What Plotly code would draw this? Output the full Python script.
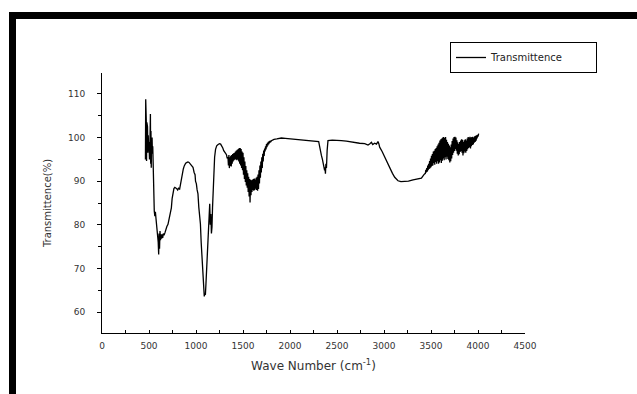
import plotly.graph_objects as go

# ---- data ----
wavenumber = [
    462, 465, 468, 471, 474, 477, 480, 484, 488, 492, 496, 500, 505, 510, 515, 518, 521, 524, 527, 530, 533, 536, 540,
    545, 550, 556, 562, 568, 574, 580, 586, 592, 598, 603, 607, 612, 617, 622, 628, 634, 640, 646, 652, 660, 670, 680,
    690, 702, 712, 720, 730, 738, 746, 755, 765, 775, 784, 795, 805, 815, 826, 835, 845, 855, 865, 875, 890, 905, 915,
    926, 940, 955, 968, 980, 990, 995, 1004, 1012, 1021, 1030, 1040, 1047, 1055, 1062, 1068, 1075, 1082, 1088, 1093,
    1100, 1106, 1110, 1116, 1122, 1128, 1134, 1140, 1146, 1152, 1158, 1164, 1170, 1176, 1182, 1190, 1198, 1208, 1220,
    1235, 1250, 1262, 1272, 1285, 1295, 1305, 1315, 1325, 1332,
    1340, 1345, 1350, 1355, 1360, 1365, 1370, 1375, 1380, 1385, 1390, 1395, 1400, 1405, 1410, 1415, 1420, 1425, 1430,
    1435, 1440, 1445, 1450, 1455, 1460, 1465, 1470, 1475, 1480, 1485, 1490, 1495, 1500, 1505, 1510, 1515, 1520, 1525,
    1530, 1535, 1540, 1545, 1550, 1555, 1560, 1565, 1570, 1575, 1580, 1585, 1590, 1595, 1600, 1605, 1610, 1615, 1620,
    1625, 1630, 1635, 1640, 1645, 1650, 1655, 1660, 1665, 1670, 1675, 1680, 1685, 1690, 1695, 1700, 1705, 1710, 1715,
    1720, 1725, 1730, 1735, 1740, 1745, 1750, 1755, 1760, 1765, 1770, 1775, 1780, 1785, 1790, 1795,
    1802, 1830, 1860, 1908, 1950, 2015, 2060, 2121, 2180, 2230, 2263, 2290, 2305, 2315, 2325, 2334, 2345, 2355, 2362,
    2368, 2372, 2377, 2382, 2388, 2395, 2404, 2450, 2500, 2547, 2600, 2650, 2688, 2740, 2795, 2830, 2850, 2866, 2880,
    2900, 2920, 2936, 2945, 2954, 2980, 3007, 3035, 3061, 3090, 3114, 3149, 3180, 3220, 3260, 3309, 3350, 3398, 3425,
    3440, 3445, 3450, 3455, 3460, 3465, 3470, 3475, 3480, 3485, 3490, 3495, 3500, 3505, 3510, 3515, 3520, 3525, 3530,
    3535, 3540, 3545, 3550, 3555, 3560, 3565, 3570, 3575, 3580, 3585, 3590, 3595, 3600, 3605, 3610, 3615, 3620, 3625,
    3630, 3635, 3640, 3645, 3650, 3655, 3660, 3665, 3670, 3675, 3680, 3685, 3690, 3695, 3700, 3705, 3710, 3715, 3720,
    3725, 3730, 3735, 3740, 3745, 3750, 3755, 3760, 3765, 3770, 3775, 3780, 3785, 3790, 3795, 3800, 3805, 3810, 3815,
    3820, 3825, 3830, 3835, 3840, 3845, 3850, 3855, 3860, 3865, 3870, 3875, 3880, 3885, 3890, 3895, 3900, 3905, 3910,
    3915, 3920, 3925, 3930, 3935, 3940, 3945, 3950, 3955, 3960, 3965, 3970, 3975, 3980, 3985, 3990, 3995, 4000, 4007,
]
transmittance = [
    95.0, 108.8, 96.0, 104.0, 94.6, 103.5, 97.0, 102.5, 96.5, 100.5, 97.5, 99.0, 95.0, 98.5, 105.4, 94.0, 101.5, 93.1,
    99.0, 96.5, 100.0, 96.3, 98.0,
    91.0, 84.0, 83.2, 82.0, 83.0, 81.5, 80.2, 79.5, 78.0, 76.0, 73.2, 78.0, 74.5, 78.6, 76.5, 77.8, 76.8, 77.8, 77.0,
    78.0, 77.6, 78.2, 79.0, 79.6, 80.1, 81.0, 81.7, 83.0, 83.9, 86.0, 87.7, 88.3, 88.6, 88.5, 88.3, 88.0, 88.4, 88.2,
    89.5, 91.0, 92.0, 92.8, 93.5, 94.1, 94.3, 94.4, 94.3, 94.0, 93.6, 93.2, 92.0, 91.5, 90.0, 89.4, 88.0, 87.1, 84.0,
    81.5, 80.2, 76.0, 73.0, 71.7, 68.0, 65.0, 63.6, 64.1, 64.0, 66.5, 68.7, 71.0, 73.5, 76.3, 80.0, 84.0, 84.8, 80.0,
    82.5, 78.0, 79.5, 84.0, 88.5, 93.0, 95.5, 97.3, 98.1, 98.4, 98.6, 98.5, 98.2, 97.6, 97.0, 96.8, 96.4, 96.0, 95.2,
    95.5, 93.6, 96.0, 93.0, 95.5, 93.5, 95.8, 93.4, 96.0, 94.0, 96.2, 94.5, 96.4, 94.8, 96.5, 95.0, 96.8, 95.0, 97.0,
    94.8, 97.2, 95.0, 97.4, 94.5, 97.6, 94.0, 97.6, 93.6, 97.4, 93.0, 96.8, 92.5, 96.5, 91.5, 95.5, 90.5, 94.5, 89.8,
    93.5, 89.0, 92.5, 88.5, 91.8, 87.5, 91.0, 86.5, 90.5, 85.1, 90.3, 86.8, 90.2, 87.5, 90.3, 88.0, 90.5, 87.8, 90.6,
    88.0, 90.4, 88.3, 90.8, 88.0, 91.0, 87.8, 91.5, 88.2, 92.5, 89.5, 93.6, 90.8, 94.5, 92.0, 95.5, 93.0, 96.3, 94.5,
    97.0, 95.8, 97.5, 96.8, 98.0, 97.3, 98.5, 97.8, 98.8, 98.2, 99.0, 98.5, 99.2, 98.8, 99.3, 99.0,
    99.3, 99.6, 99.7, 99.9, 99.8, 99.7, 99.6, 99.5, 99.4, 99.3, 99.3, 99.2, 99.1, 98.0, 96.5, 95.9, 95.0, 94.0, 93.6,
    92.5, 93.2, 91.7, 94.0, 93.0, 97.0, 99.3, 99.4, 99.4, 99.3, 99.2, 99.0, 98.9, 98.7, 98.6, 98.3, 98.6, 98.9, 98.4,
    98.7, 98.5, 99.1, 98.6, 97.8, 96.8, 95.5, 94.2, 92.8, 91.8, 90.9, 90.1, 89.9, 90.0, 90.0, 90.3, 90.5, 90.7, 91.5,
    91.8, 92.6, 92.0, 93.0, 92.2, 93.6, 92.5, 94.0, 92.8, 94.6, 93.0, 95.2, 93.2, 95.8, 93.5, 96.2, 93.6, 96.8, 94.2,
    97.0, 93.8, 97.4, 94.4, 97.6, 94.0, 98.0, 94.6, 98.4, 94.0, 98.8, 94.3, 99.3, 94.8, 99.6, 94.2, 99.8, 94.7, 100.0,
    95.2, 100.1, 94.8, 99.9, 95.5, 100.1, 95.0, 99.5, 95.6, 99.0, 95.1, 98.6, 94.8, 98.2, 94.3, 97.8, 94.6, 98.4, 95.2,
    99.2, 96.0, 99.8, 96.5, 100.1, 96.9, 100.2, 97.4, 100.0, 97.0, 99.4, 96.3, 98.9, 95.9, 98.5, 96.2, 99.0, 96.7, 99.3,
    96.9, 99.6, 96.5, 99.5, 95.9, 99.0, 96.4, 99.4, 96.8, 99.6, 96.5, 99.3, 96.9, 99.8, 97.3, 100.1, 97.6, 100.0, 97.8,
    100.2, 97.5, 100.0, 98.0, 100.1, 98.3, 100.2, 98.4, 100.0, 98.8, 100.3, 99.0, 100.4, 99.3, 100.5, 99.8, 100.6, 100.2,
    100.9,
]

x_ticks = [0, 500, 1000, 1500, 2000, 2500, 3000, 3500, 4000, 4500]
y_ticks = [60, 70, 80, 90, 100, 110]

W, H = 637, 394
ML, MR, MT, MB = 102, 112, 73, 61
PW, PH = W - ML - MR, H - MT - MB


def px_x(p):
    return (p - ML) / PW


def px_y(p):
    return (H - MB - p) / PH


fig = go.Figure()
fig.add_trace(go.Scatter(
    x=wavenumber, y=transmittance, mode="lines", name="Transmittence",
    line=dict(color="black", width=1.3),
))

tickfont = dict(family="DejaVu Sans", size=9, color="#333333")

fig.update_layout(
    width=W, height=H,
    margin=dict(l=ML, r=MR, t=MT, b=MB, pad=0),
    paper_bgcolor="white", plot_bgcolor="white",
    showlegend=True,
    legend=dict(
        orientation="h",
        x=px_x(450), y=px_y(42), xanchor="left", yanchor="top",
        bordercolor="black", borderwidth=1, bgcolor="white",
        font=dict(family="DejaVu Sans", size=10, color="#222222"),
        entrywidth=100, entrywidthmode="pixels",
        tracegroupgap=0,
    ),
    xaxis=dict(
        range=[0, 4500], tickvals=x_ticks, ticktext=[str(v) for v in x_ticks],
        showline=True, linecolor="black", linewidth=1, showgrid=False, zeroline=False,
        ticks="inside", ticklen=3, tickcolor="black", tickwidth=1,
        minor=dict(dtick=250, ticks="inside", ticklen=3, tickcolor="black", showgrid=False),
        tickfont=tickfont, ticklabelstandoff=4,
        title=dict(text="Wave Number (cm<sup>-1</sup>)", standoff=11,
                   font=dict(family="DejaVu Sans", size=12, color="#333333")),
    ),
    yaxis=dict(
        range=[55.2, 114.8], tickvals=y_ticks, ticktext=[str(v) for v in y_ticks],
        showline=True, linecolor="black", linewidth=1, showgrid=False, zeroline=False,
        ticks="outside", ticklen=4, tickcolor="black", tickwidth=1,
        minor=dict(dtick=5, ticks="outside", ticklen=3, tickcolor="black", showgrid=False),
        tickfont=tickfont, ticklabelstandoff=10,
        title=dict(text="Transmittence(%)", standoff=14,
                   font=dict(family="DejaVu Sans", size=10, color="#333333")),
    ),
    shapes=[
        dict(type="rect", xref="paper", yref="paper",
             x0=px_x(9), x1=px_x(W + 2), y0=px_y(19), y1=px_y(12),
             fillcolor="black", line=dict(width=0), layer="above"),
        dict(type="rect", xref="paper", yref="paper",
             x0=px_x(9), x1=px_x(16), y0=px_y(H + 2), y1=px_y(12),
             fillcolor="black", line=dict(width=0), layer="above"),
    ],
)

fig.write_html("out.html")
